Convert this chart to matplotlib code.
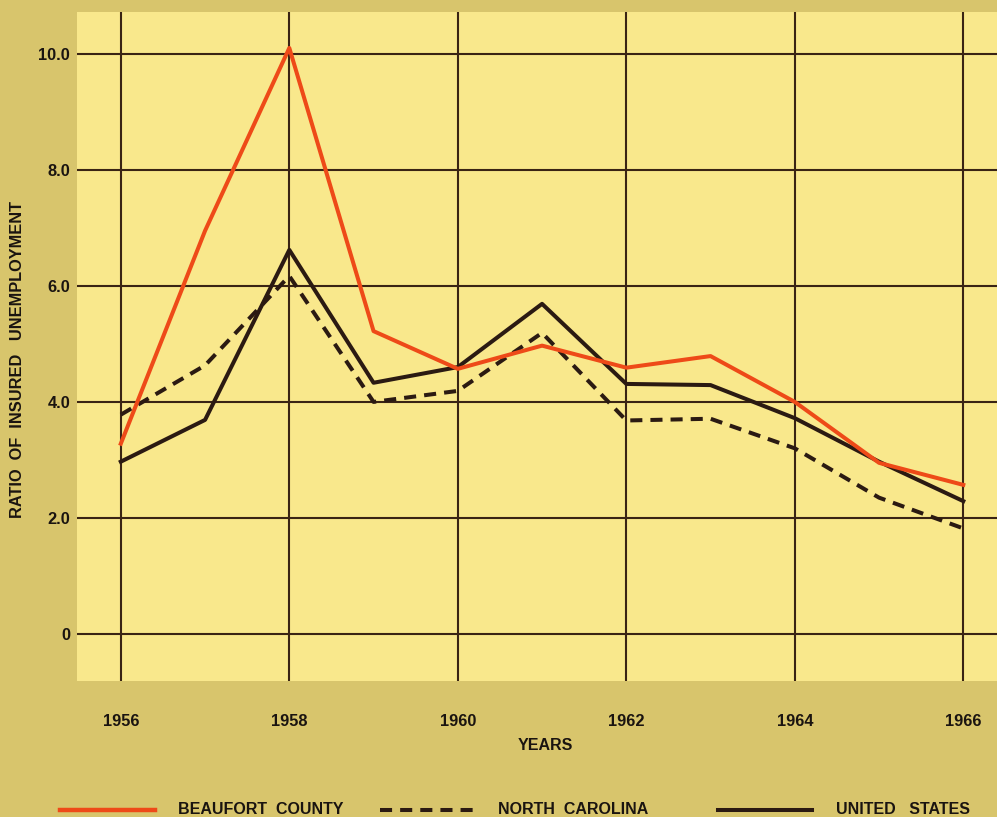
import matplotlib
matplotlib.use("Agg")
import matplotlib.pyplot as plt
from matplotlib.lines import Line2D

years = [1956, 1957, 1958, 1959, 1960, 1961, 1962, 1963, 1964, 1965, 1966]
beaufort = [3.28, 6.95, 10.1, 5.22, 4.57, 4.97, 4.59, 4.79, 4.0, 2.95, 2.57]
north_carolina = [3.78, 4.63, 6.17, 4.0, 4.19, 5.19, 3.68, 3.71, 3.2, 2.35, 1.82]
united_states = [2.97, 3.69, 6.62, 4.33, 4.6, 5.69, 4.31, 4.29, 3.72, 2.97, 2.29]
x_ticks = [1956, 1958, 1960, 1962, 1964, 1966]
y_ticks = [0, 2, 4, 6, 8, 10]
y_tick_labels = ["0", "2.0", "4.0", "6.0", "8.0", "10.0"]
legend_labels = ["BEAUFORT  COUNTY", "NORTH  CAROLINA", "UNITED   STATES"]

OUTER = "#d8c56c"
INNER = "#f9e88c"
RED = "#ee4a18"
DARK = "#2b1a12"
GRID = "#3a2414"
FONT = "Liberation Sans"

W, H = 997, 817
fig = plt.figure(figsize=(W / 100, H / 100), dpi=100, facecolor=OUTER)
ax = fig.add_axes([77 / W, 1 - 681 / H, 920 / W, 669 / H])
ax.set_facecolor(INNER)
for s in ax.spines.values():
    s.set_visible(False)

ax.set_xlim(1955.48, 1966.40)
ax.set_ylim(-0.81, 10.72)
ax.set_xticks(x_ticks)
ax.set_yticks(y_ticks)
ax.set_yticklabels(y_tick_labels)
ax.grid(True, color=GRID, lw=1.5, zorder=1)
ax.tick_params(axis="both", length=0, labelsize=11.8, labelcolor="#1a1410")
ax.tick_params(axis="y", pad=5)
ax.tick_params(axis="x", pad=24)
for lab in ax.get_xticklabels() + ax.get_yticklabels():
    lab.set_fontfamily(FONT)
    lab.set_fontweight("bold")

ax.plot(years, north_carolina, color=DARK, lw=2.9, dashes=(3, 2), zorder=3)
ax.plot(years, united_states, color=DARK, lw=2.9, zorder=3)
ax.plot(years, beaufort, color=RED, lw=2.9, zorder=4)

fig.text(545 / W, 1 - 746 / H, "YEARS", ha="center", va="center",
         fontsize=11.5, fontweight="bold", family=FONT, color="#1a1410")
fig.text(18 / W, 1 - 360 / H, "RATIO  OF  INSURED   UNEMPLOYMENT", ha="center", va="center",
         rotation=90, fontsize=11.8, fontweight="bold", family=FONT, color="#1a1410")

# legend
ly = 1 - 810 / H
items = [
    (60, 155, 178, dict(color=RED, lw=3.2)),
    (380, 475, 498, dict(color=DARK, lw=2.9, dashes=(3, 2))),
    (718, 812, 836, dict(color=DARK, lw=2.9)),
]
for (x0, x1, tx, style), lab in zip(items, legend_labels):
    fig.add_artist(Line2D([x0 / W, x1 / W], [ly, ly], transform=fig.transFigure, **style))
    fig.text(tx / W, ly, lab, ha="left", va="center", fontsize=11.5,
             fontweight="bold", family=FONT, color="#1a1410")

fig.savefig("out.png", dpi=100, facecolor=OUTER)
